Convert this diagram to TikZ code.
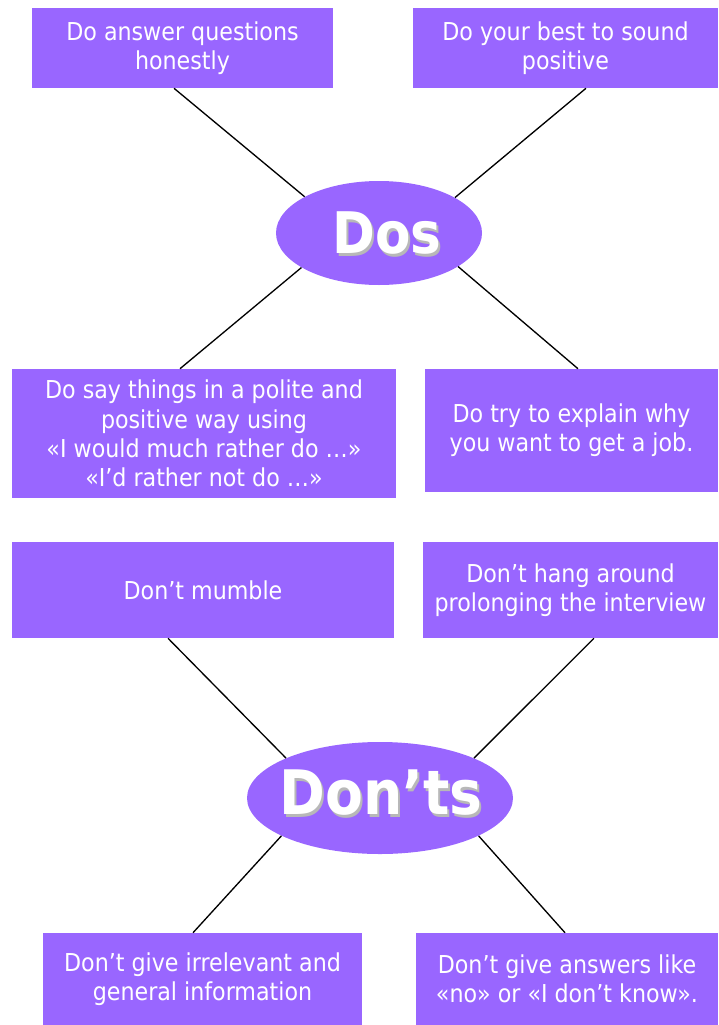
\documentclass[tikz,border=0pt]{standalone}
\usepackage{fontspec}
\setmainfont{DejaVu Sans Condensed}
\usetikzlibrary{shapes.geometric,calc}
\definecolor{boxviolet}{HTML}{9966FF}
\definecolor{shadowgray}{HTML}{B8B8B8}
\tikzset{
  box/.style={fill=boxviolet, draw=none, text=white, align=center,
    inner sep=0pt, font=\fontsize{18.5}{22}\selectfont},
  oval/.style={ellipse, fill=boxviolet, draw=none, inner sep=0pt},
  link/.style={draw=black, line width=1pt},
  bigword/.style={text=white, font=\bfseries},
}
\begin{document}
\begin{tikzpicture}[x=0.75pt,y=-0.75pt]
\useasboundingbox (0,0) rectangle (718,1025);
% Dos
\node[box, minimum width=301*0.75pt, minimum height=80*0.75pt] (b1) at (182.5,48) {Do answer questions\\honestly};
\node[box, minimum width=305*0.75pt, minimum height=80*0.75pt] (b2) at (565.5,48) {Do your best to sound\\positive};
\node[oval, minimum width=206*0.75pt, minimum height=104*0.75pt] (dos) at (379,233) {};
\node[bigword, text=shadowgray, font=\fontsize{43}{43}\selectfont\bfseries] at (389,236) {Dos};
\node[bigword, font=\fontsize{43}{43}\selectfont\bfseries] (dost) at (387,233.5) {Dos};
\node[box, minimum width=384*0.75pt, minimum height=129*0.75pt] (b3) at (204,433.5) {Do say things in a polite and\\positive way using\\«I would much rather do …»\\«I’d rather not do …»};
\node[box, minimum width=293*0.75pt, minimum height=123*0.75pt] (b4) at (571.5,430.5) {Do try to explain why\\you want to get a job.};
\draw[link] ($(b1.south)+(-8.5,0)$) -- (dos.154);
\draw[link] ($(b2.south)+(20.5,0)$) -- (dos.25);
\draw[link] ($(b3.north)+(-24,0)$) -- (dos.204);
\draw[link] ($(b4.north)+(6.5,0)$) -- (dos.337);
% Don'ts
\node[box, minimum width=382*0.75pt, minimum height=96*0.75pt] (b5) at (203,590) {Don’t mumble};
\node[box, minimum width=295*0.75pt, minimum height=96*0.75pt] (b6) at (570.5,590) {Don’t hang around\\prolonging the interview};
\node[oval, minimum width=266*0.75pt, minimum height=112*0.75pt] (donts) at (380,798) {};
\node[bigword, text=shadowgray, font=\fontsize{46}{46}\selectfont\bfseries] at (383,795.5) {Don’ts};
\node[bigword, font=\fontsize{46}{46}\selectfont\bfseries] (dontst) at (381,793) {Don’ts};
\node[box, minimum width=319*0.75pt, minimum height=92*0.75pt] (b7) at (202.5,979) {Don’t give irrelevant and\\general information};
\node[box, minimum width=302*0.75pt, minimum height=92*0.75pt] (b8) at (567,979) {Don’t give answers like\\«no» or «I don’t know».};
\draw[link] ($(b5.south)+(-35,0)$) -- (donts.157);
\draw[link] ($(b6.south)+(23.5,0)$) -- (donts.23);
\draw[link] ($(b7.north)+(-9.5,0)$) -- (donts.201);
\draw[link] ($(b8.north)+(-2,0)$) -- (donts.339);
\end{tikzpicture}
\end{document}
